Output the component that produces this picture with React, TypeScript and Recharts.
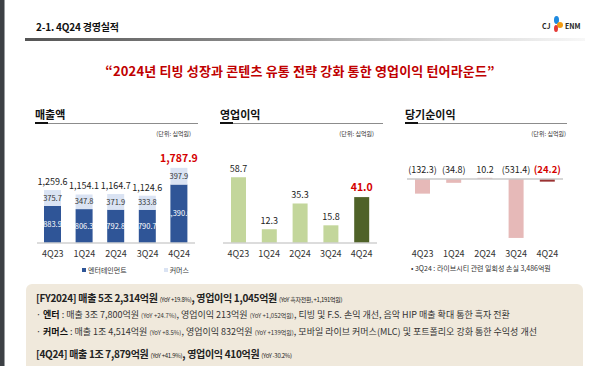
import { BarChart, Bar, XAxis, YAxis, LabelList, Legend, ReferenceLine, Cell } from "recharts";

const QUARTERS = ["4Q23", "1Q24", "2Q24", "3Q24", "4Q24"];
const ENT_SALES = [883.9, 806.3, 792.8, 790.7, 1390.0];
const COMMERCE_SALES = [375.7, 347.8, 371.9, 333.8, 397.9];
const SALES_TOTAL = [1259.6, 1154.1, 1164.7, 1124.6, 1787.9];
const OP_PROFIT = [58.7, 12.3, 35.3, 15.8, 41.0];
const NET_INCOME = [-132.3, -34.8, 10.2, -531.4, -24.2];

const RED = "#d40000";
const FONT = '"Noto Sans CJK KR", "Noto Sans", sans-serif';
const TICK = { fontSize: 9, fill: "#333", fontFamily: FONT };

const salesData = QUARTERS.map((q, i) => ({
  q,
  ent: ENT_SALES[i],
  commerce: COMMERCE_SALES[i],
  total: SALES_TOTAL[i],
}));
const opData = QUARTERS.map((q, i) => ({ q, v: OP_PROFIT[i] }));
const netData = QUARTERS.map((q, i) => ({ q, v: NET_INCOME[i] }));

const fmt = (v: number) =>
  v.toLocaleString("en-US", { minimumFractionDigits: 1, maximumFractionDigits: 1 });
const fmtParen = (v: number) => (v < 0 ? `(${fmt(-v)})` : fmt(v));

function box(p: any) {
  const vb = p.viewBox ?? {};
  return {
    x: Number(vb.x ?? p.x),
    y: Number(vb.y ?? p.y),
    w: Number(vb.width ?? p.width),
    h: Number(vb.height ?? p.height),
  };
}

// label above the bar, last quarter in red
const TopLabel = (last: number) => (p: any) => {
  const { x, y, w } = box(p);
  const isLast = p.index === QUARTERS.length - 1 || p.value === last;
  return (
    <text
      x={x + w / 2}
      y={y - (isLast ? 6 : 5)}
      textAnchor="middle"
      fontSize={isLast ? 10.5 : 9}
      fontWeight={isLast ? 700 : 400}
      fill={isLast ? RED : "#222"}
      fontFamily={FONT}
    >
      {fmt(p.value)}
    </text>
  );
};

// net income: labels sit just above the zero line
const NetLabel = (p: any) => {
  const { x, y, w, h } = box(p);
  const v = Number(p.value);
  const base = v < 0 ? Math.min(y, y + h) : Math.max(y, y + h);
  const isLast = p.index === QUARTERS.length - 1 || v === NET_INCOME[NET_INCOME.length - 1];
  return (
    <text
      x={x + w / 2}
      y={base - 6}
      textAnchor="middle"
      fontSize={isLast ? 9.5 : 9}
      fontWeight={isLast ? 700 : 400}
      fill={isLast ? RED : "#222"}
      fontFamily={FONT}
    >
      {fmtParen(v)}
    </text>
  );
};

const SectionTitle = ({ left, width, text }: { left: number; width: number; text: string }) => (
  <>
    <div style={{ position: "absolute", left, top: 106, fontSize: 11, fontWeight: 700, color: "#111" }}>
      {text}
    </div>
    <div style={{ position: "absolute", left, top: 123, width, height: 1, background: "#8c8c8c" }} />
    <div style={{ position: "absolute", left, top: 122, width: 13, height: 2, background: "#111" }} />
  </>
);

const Unit = ({ right }: { right: number }) => (
  <div
    style={{
      position: "absolute",
      left: right - 50,
      width: 50,
      top: 129,
      fontSize: 6,
      textAlign: "right",
      color: "#333",
    }}
  >
    (단위: 십억원)
  </div>
);

const small = { fontSize: 6, fontWeight: 400 };

export default function App() {
  return (
    <div
      style={{
        position: "fixed",
        left: 0,
        top: 0,
        width: 600,
        height: 366,
        background: "#fff",
        overflow: "hidden",
        fontFamily: FONT,
      }}
    >
      {/* left frame */}
      <div style={{ position: "absolute", left: 0, top: 0, width: 4, height: 366, background: "#3d4045" }} />
      <div style={{ position: "absolute", left: 4, top: 0, width: 1, height: 366, background: "#9a9da0" }} />

      {/* header */}
      <div style={{ position: "absolute", left: 36, top: 19, fontSize: 10, fontWeight: 700, color: "#111", letterSpacing: -0.2 }}>
        2-1. 4Q24 경영실적
      </div>
      <div
        style={{
          position: "absolute",
          left: 25,
          top: 38,
          width: 560,
          height: 3,
          background: "linear-gradient(to right, #555 0%, #8a8a8a 40%, #d6d6d6 75%, #f7f7f7 100%)",
        }}
      />
      <div style={{ position: "absolute", left: 542, top: 15, width: 50, height: 20 }}>
        <span style={{ position: "absolute", left: 0, top: 6, fontSize: 7, fontWeight: 700, color: "#222" }}>CJ</span>
        <span style={{ position: "absolute", left: 12, top: 1, width: 5, height: 8, borderRadius: "50%", background: "#1f8ae0" }} />
        <span style={{ position: "absolute", left: 15, top: 7, width: 6, height: 6, borderRadius: "50%", background: "#f39c12" }} />
        <span style={{ position: "absolute", left: 12, top: 10, width: 4, height: 7, borderRadius: "50%", background: "#e53935" }} />
        <span style={{ position: "absolute", left: 23, top: 6, fontSize: 7, fontWeight: 700, color: "#222" }}>ENM</span>
      </div>

      <div
        style={{
          position: "absolute",
          left: 0,
          top: 61,
          width: 600,
          textAlign: "center",
          fontSize: 13,
          fontWeight: 700,
          color: "#c00000",
          letterSpacing: 0.15,
        }}
      >
        “2024년 티빙 성장과 콘텐츠 유통 전략 강화 통한 영업이익 턴어라운드”
      </div>

      {/* 매출액 */}
      <SectionTitle left={35} width={163} text="매출액" />
      <Unit right={191} />
      <div style={{ position: "absolute", left: 22, top: 140 }}>
        <BarChart width={188} height={137} data={salesData} margin={{ top: 0, right: 15, left: 15, bottom: 0 }}>
          <XAxis dataKey="q" tick={TICK} tickLine={false} axisLine={{ stroke: "#d0d0d0", strokeWidth: 1.5 }} height={20} />
          <YAxis hide domain={[0, 2450]} />
          <Legend
            verticalAlign="bottom"
            content={() => (
              <div style={{ display: "flex", fontSize: 7, color: "#333", height: 14, alignItems: "center" }}>
                <span style={{ marginLeft: 45, display: "flex", alignItems: "center" }}>
                  <span style={{ width: 4, height: 4, background: "#2f5597", marginRight: 2 }} />
                  엔터테인먼트
                </span>
                <span style={{ marginLeft: 37, display: "flex", alignItems: "center" }}>
                  <span style={{ width: 4, height: 4, background: "#dae3f3", marginRight: 2 }} />
                  커머스
                </span>
              </div>
            )}
          />
          <Bar dataKey="ent" name="엔터테인먼트" stackId="s" fill="#2f5597" barSize={17} isAnimationActive={false}>
            <LabelList dataKey="ent" position="center" fill="#fff" fontSize={7.5} formatter={(v: any) => fmt(Number(v))} />
          </Bar>
          <Bar dataKey="commerce" name="커머스" stackId="s" fill="#dae3f3" barSize={17} isAnimationActive={false}>
            <LabelList dataKey="commerce" position="center" fill="#333" fontSize={7.5} formatter={(v: any) => fmt(Number(v))} />
            <LabelList dataKey="total" content={TopLabel(SALES_TOTAL[4])} />
          </Bar>
        </BarChart>
      </div>

      {/* 영업이익 */}
      <SectionTitle left={220} width={163} text="영업이익" />
      <Unit right={374} />
      <div style={{ position: "absolute", left: 223, top: 140 }}>
        <BarChart width={154} height={123} data={opData} margin={{ top: 0, right: 0, left: 0, bottom: 0 }}>
          <XAxis dataKey="q" tick={TICK} tickLine={false} axisLine={{ stroke: "#d0d0d0", strokeWidth: 1.5 }} height={20} />
          <YAxis hide domain={[0, 92]} />
          <Bar dataKey="v" barSize={15} isAnimationActive={false}>
            {opData.map((d, i) => (
              <Cell key={d.q} fill={i === opData.length - 1 ? "#4f6228" : "#c3d69b"} />
            ))}
            <LabelList dataKey="v" content={TopLabel(OP_PROFIT[4])} />
          </Bar>
        </BarChart>
      </div>

      {/* 당기순이익 */}
      <SectionTitle left={405} width={162} text="당기순이익" />
      <Unit right={566} />
      <div style={{ position: "absolute", left: 407, top: 140 }}>
        <BarChart width={156} height={123} data={netData} margin={{ top: 0, right: 0, left: 0, bottom: 0 }}>
          <XAxis dataKey="q" tick={TICK} tickLine={false} axisLine={false} height={20} />
          <YAxis hide domain={[-577, 351]} />
          <ReferenceLine y={0} stroke="#c8c8c8" strokeWidth={1.5} />
          <Bar dataKey="v" barSize={15} isAnimationActive={false}>
            {netData.map((d, i) => (
              <Cell key={d.q} fill={i === netData.length - 1 ? "#9b3232" : "#e6b9b8"} />
            ))}
            <LabelList dataKey="v" content={NetLabel} />
          </Bar>
        </BarChart>
      </div>
      <div style={{ position: "absolute", left: 411, top: 263, fontSize: 7, color: "#333" }}>
        • 3Q24 : 라이브시티 관련 일회성 손실 3,486억원
      </div>

      {/* summary box */}
      <div
        style={{
          position: "absolute",
          left: 26,
          top: 284,
          width: 557,
          height: 100,
          borderRadius: 6,
          background: "#f0e9dc",
          color: "#222",
        }}
      >
        <div style={{ position: "absolute", left: 10, top: 6, fontSize: 10, fontWeight: 700, whiteSpace: "nowrap", letterSpacing: -0.3 }}>
          [FY2024] 매출 5조 2,314억원 <span style={small}>(YoY +19.8%)</span>, 영업이익 1,045억원{" "}
          <span style={small}>(YoY 흑자전환, +1,191억원)</span>
        </div>
        <div style={{ position: "absolute", left: 10, top: 24, fontSize: 9, whiteSpace: "nowrap", color: "#333" }}>
          · <b style={{ color: "#111" }}>엔터</b> : 매출 3조 7,800억원 <span style={small}>(YoY +24.7%)</span>, 영업이익 213억원{" "}
          <span style={small}>(YoY +1,052억원)</span>, 티빙 및 F.S. 손익 개선, 음악 HIP 매출 확대 통한 흑자 전환
        </div>
        <div style={{ position: "absolute", left: 10, top: 41, fontSize: 9, whiteSpace: "nowrap", color: "#333" }}>
          · <b style={{ color: "#111" }}>커머스</b> : 매출 1조 4,514억원 <span style={small}>(YoY +8.5%)</span>, 영업이익 832억원{" "}
          <span style={small}>(YoY +139억원)</span>, 모바일 라이브 커머스(MLC) 및 포트폴리오 강화 통한 수익성 개선
        </div>
        <div style={{ position: "absolute", left: 10, top: 62, fontSize: 10, fontWeight: 700, whiteSpace: "nowrap", letterSpacing: -0.3 }}>
          [4Q24] 매출 1조 7,879억원 <span style={small}>(YoY +41.9%)</span>, 영업이익 410억원 <span style={small}>(YoY -30.2%)</span>
        </div>
      </div>
    </div>
  );
}
